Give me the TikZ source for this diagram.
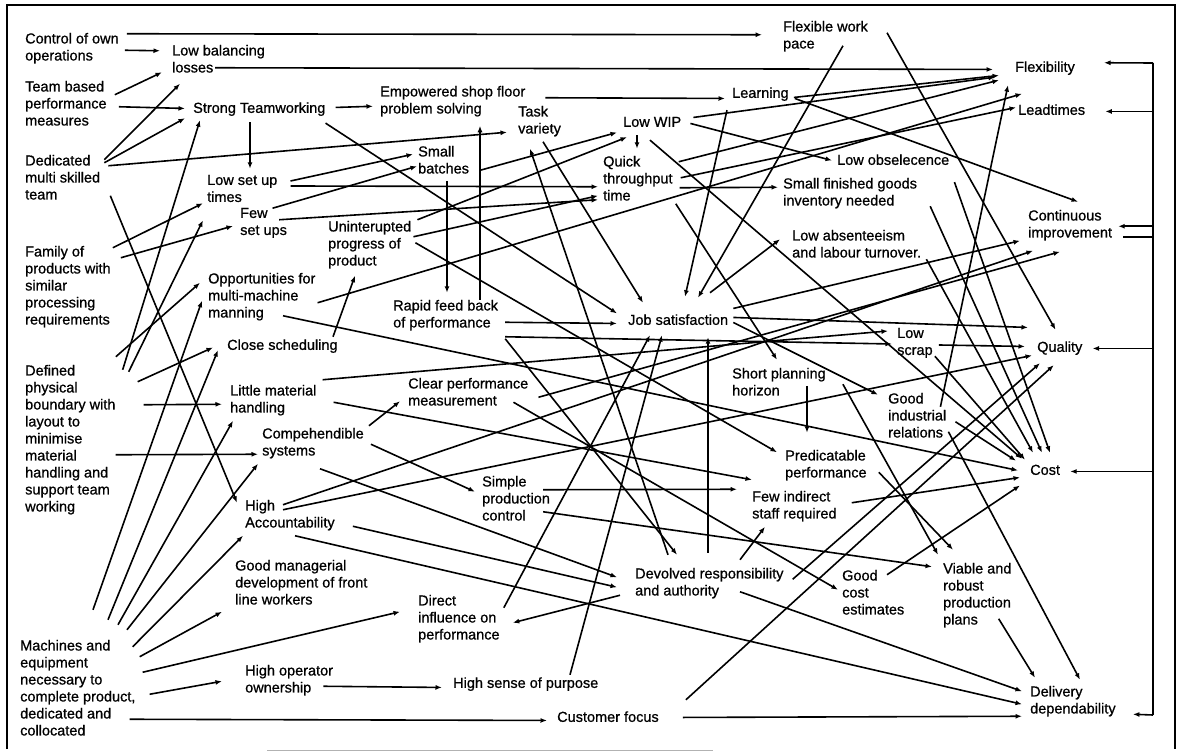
\documentclass[tikz,border=0pt]{standalone}
\usepackage{fontspec}
\setmainfont{Liberation Sans}[FakeBold=0.8]
\usetikzlibrary{arrows.meta}
\begin{document}
\begin{tikzpicture}[x=1pt,y=-1pt,
  lbl/.style={anchor=north west, inner sep=2pt, align=left,
    font=\fontsize{14.5}{17}\selectfont,
    execute at begin node=\strut, execute at end node=\strut},
  arr/.style={-{Latex[length=6.5pt,width=5pt]}, line width=1.6pt},
  ln/.style={line width=1.6pt}]
\useasboundingbox (0,0) rectangle (1179,752);
% frame: black on three sides, a faint rule along the bottom
\draw[line width=2pt] (7,749) -- (7,5) -- (1175,5) -- (1175,749);
\draw[gray!60, line width=1pt] (267,750) -- (713,750);

% ---------- factors ----------
\node[lbl] (ctrl) at (23,30.75) {Control of own\\operations};
\node[lbl] (lbl) at (170,42.75) {Low balancing\\losses};
\node[lbl] (team) at (23,78.75) {Team based\\performance\\measures};
\node[lbl] (strong) at (191,98.75) {Strong Teamworking};
\node[lbl] (ded) at (23,152.75) {Dedicated\\multi skilled\\team};
\node[lbl] (emp) at (378,83.75) {Empowered shop floor\\problem solving};
\node[lbl] (task) at (516,103.75) {Task\\variety};
\node[lbl] (learn) at (730,83.75) {Learning};
\node[lbl] (flexwork) at (781,18.75) {Flexible work\\pace};
\node[lbl] (lowwip) at (621,112.75) {Low WIP};
\node[lbl] (small) at (416,143.75) {Small\\batches};
\node[lbl] (lowset) at (205,172.75) {Low set up\\times};
\node[lbl] (few) at (238,205.75) {Few\\set ups};
\node[lbl] (quick) at (601,153.75) {Quick\\throughput\\time};
\node[lbl] (obs) at (835,150.75) {Low obselecence};
\node[lbl] (sfg) at (781,175.75) {Small finished goods\\inventory needed};
\node[lbl] (absent) at (790,227.75) {Low absenteeism\\and labour turnover.};
\node[lbl] (unint) at (326,218.75) {Uninterupted\\progress of\\product};
\node[lbl] (family) at (23,243.75) {Family of\\products with\\similar\\processing\\requirements};
\node[lbl] (opp) at (206,270.75) {Opportunities for\\multi-machine\\manning};
\node[lbl] (close) at (225,335.75) {Close scheduling};
\node[lbl] (defined) at (23,362.75) {Defined\\physical\\boundary with\\layout to\\minimise\\material\\handling and\\support team\\working};
\node[lbl] (little) at (228,382.75) {Little material\\handling};
\node[lbl] (comp) at (260,425.75) {Compehendible\\systems};
\node[lbl] (rapid) at (391,297.75) {Rapid feed back\\of performance};
\node[lbl] (clear) at (406,375.75) {Clear performance\\measurement};
\node[lbl] (simple) at (480,473.75) {Simple\\production\\control};
\node[lbl] (high) at (243,497.75) {High\\Accountability};
\node[lbl] (good) at (233,557.75) {Good managerial\\development of front\\line workers};
\node[lbl] (direct) at (416,592.75) {Direct\\influence on\\performance};
\node[lbl] (machines) at (18,637.75) {Machines and\\equipment\\necessary to\\complete product,\\dedicated and\\collocated};
\node[lbl] (operator) at (243,662.75) {High operator\\ownership};
\node[lbl] (purpose) at (451,673.75) {High sense of purpose};
\node[lbl] (customer) at (555,707.75) {Customer focus};
\node[lbl] (devolved) at (633,565.75) {Devolved responsibility\\and authority};
\node[lbl] (job) at (626,310.75) {Job satisfaction};
\node[lbl] (short) at (730,365.75) {Short planning\\horizon};
\node[lbl] (pred) at (783,447.75) {Predicatable\\performance};
\node[lbl] (fewind) at (750,488.75) {Few indirect\\staff required};
\node[lbl] (lowscrap) at (895,325.75) {Low\\scrap};
\node[lbl] (gir) at (886,390.75) {Good\\industrial\\relations};
\node[lbl] (goodcost) at (840,567.75) {Good\\cost\\estimates};
\node[lbl] (viable) at (941,560.75) {Viable and\\robust\\production\\plans};
% ---------- performance outcomes ----------
\node[lbl] (flex) at (1013,57.75) {Flexibility};
\node[lbl] (lead) at (1016,100.75) {Leadtimes};
\node[lbl] (cont) at (1026,207.75) {Continuous\\improvement};
\node[lbl] (quality) at (1035,337.75) {Quality};
\node[lbl] (cost) at (1028,460.75) {Cost};
\node[lbl] (delivery) at (1028,683.75) {Delivery\\dependability};

% ---------- links, top band ----------
\draw[arr] ([shift={(6,3)}]ctrl.north east) -- ([shift={(-19,16)}]flexwork.north west);
\draw[arr] ([shift={(4,1)}]ctrl.east) -- ([shift={(-10,8)}]lbl.north west);
\draw[arr] ([shift={(45,-12)}]lbl.south west) -- ([shift={(-20,1)}]flex.west);
\draw[arr] ([shift={(6,16)}]team.north east) -- ([shift={(-8,11)}]lbl.west);
\draw[arr] ([shift={(10,1)}]team.east) -- ([shift={(-6,-1)}]strong.west);
\draw[arr] ([shift={(2,7)}]ded.north east) -- ([shift={(10,4)}]lbl.south west);
\draw[arr] ([shift={(2,10)}]ded.north east) -- ([shift={(-6,-2)}]strong.south west);
\draw[arr] ([shift={(6,13)}]ded.north east) -- ([shift={(-9,10)}]task.west);
\draw[arr] ([shift={(8,-11)}]ded.south east) -- ([shift={(-6,5)}]high.north west);
\draw[arr] ([shift={(5,7)}]defined.north east) -- ([shift={(9,0)}]strong.south west);
\draw[arr] ([shift={(59,2)}]strong.south west) -- ([shift={(45,-4)}]lowset.north west);
\draw[arr] ([shift={(8,-2)}]strong.east) -- ([shift={(-5,4)}]emp.west);
\draw[arr] ([shift={(-2,3)}]strong.south east) -- ([shift={(-9,-8)}]job.west);
\draw[arr] ([shift={(18,14)}]emp.north east) -- ([shift={(-5,4)}]learn.west);
\draw[arr] ([shift={(0,4)}]family.north east) -- ([shift={(-2,-6)}]lowset.south west);
\draw[arr] ([shift={(8,14)}]family.north east) -- ([shift={(-5,2)}]few.west);
\draw[arr] ([shift={(11,9)}]defined.north east) -- ([shift={(-2,11)}]lowset.south west);
\draw[arr] ([shift={(11,-10)}]lowset.east) -- ([shift={(-3,-8)}]small.west);
\draw[arr] ([shift={(11,-5)}]lowset.east) -- ([shift={(-3,6)}]quick.west);
\draw[arr] ([shift={(-7,-1)}]lowset.south east) -- ([shift={(1,4)}]small.west);
\draw[arr] ([shift={(-10,14)}]few.north east) -- ([shift={(-3,19)}]quick.west);
\draw[arr] ([shift={(0,18)}]unint.north east) -- ([shift={(-3,15)}]quick.west);
\draw[arr] ([shift={(9,8)}]small.east) -- ([shift={(-4,9)}]lowwip.west);
\draw[arr] ([shift={(4,1)}]unint.north east) -- ([shift={(6,3)}]lowwip.south west);
\draw[arr] ([shift={(31,0)}]small.south west) -- ([shift={(56,-5)}]rapid.north west);
\draw[arr] ([shift={(89,2)}]rapid.north west) -- ([shift={(102,5)}]emp.south west);
\draw[arr] ([shift={(16,1)}]lowwip.south west) -- ([shift={(36,-5)}]quick.north west);
\draw[arr] ([shift={(10,-6)}]lowwip.east) -- ([shift={(-18,-2)}]flex.south west);
\draw[arr] ([shift={(3,3)}]learn.east) -- ([shift={(-14,7)}]flex.west);
\draw[arr] ([shift={(4,8)}]quick.north east) -- ([shift={(-14,1)}]flex.south west);
\draw[arr] ([shift={(6,-3)}]quick.east) -- ([shift={(0,-4)}]lead.west);
\draw[arr] ([shift={(0,5)}]opp.east) -- ([shift={(6,-7)}]lead.north west);
\draw[arr] ([shift={(7,0)}]lowwip.east) -- ([shift={(-3,-1)}]obs.west);
\draw[arr] ([shift={(5,7)}]quick.east) -- ([shift={(-3,-7)}]sfg.west);
\draw[arr] ([shift={(4,4)}]learn.east) -- ([shift={(52,-6)}]cont.north west);
\draw[arr] ([shift={(17,14)}]flexwork.north east) -- ([shift={(-29,-8)}]quality.north east);
\draw[arr] ([shift={(62,-10)}]flexwork.south west) -- ([shift={(72,-13)}]job.north west);
\draw[arr] ([shift={(-3,5)}]learn.south west) -- ([shift={(59,-14)}]job.north west);
\draw[arr] ([shift={(84,-18)}]job.north west) -- ([shift={(-10,-7)}]absent.west);
\draw[arr] ([shift={(27,1)}]task.south west) -- ([shift={(17,-8)}]job.north west);
\draw[arr] ([shift={(35,-11)}]devolved.north west) -- ([shift={(14,8)}]task.south west);
\draw[arr] ([shift={(1,-4)}]quick.south east) -- ([shift={(47,-6)}]short.north west);
\draw[arr] ([shift={(29,6)}]lowwip.south west) -- ([shift={(-6,-2)}]cost.north west);

% ---------- links, middle band ----------
\draw[arr] ([shift={(3,-13)}]job.east) -- ([shift={(-6,-4)}]cont.south west);
\draw[arr] ([shift={(3,-4)}]job.east) -- ([shift={(-7,-21)}]quality.west);
\draw[arr] ([shift={(3,1)}]job.east) -- ([shift={(-8,4)}]gir.north west);
\draw[arr] ([shift={(5,6)}]rapid.east) -- ([shift={(-9,2)}]job.west);
\draw[arr] ([shift={(5,2)}]rapid.south east) -- ([shift={(-3,0)}]lowscrap.west);
\draw[arr] ([shift={(5,4)}]rapid.south east) -- ([shift={(44,-11)}]devolved.north west);
\draw[arr] ([shift={(108,1)}]close.north west) -- ([shift={(29,3)}]unint.south west);
\draw[arr] ([shift={(4,-3)}]little.north east) -- ([shift={(-7,-13)}]lowscrap.west);
\draw[arr] ([shift={(15,1)}]little.east) -- ([shift={(2,-9)}]fewind.north west);
\draw[arr] ([shift={(26,-36)}]defined.east) -- ([shift={(-6,3)}]little.west);
\draw[arr] ([shift={(20,19)}]defined.north east) -- ([shift={(-12,1)}]close.west);
\draw[arr] ([shift={(-2,14)}]defined.east) -- ([shift={(-2,10)}]comp.west);
\draw[arr] ([shift={(3,25)}]family.south east) -- ([shift={(-6,-15)}]opp.west);
\draw[arr] ([shift={(77,-9)}]opp.south west) -- ([shift={(-10,-1)}]cost.west);
\draw[arr] ([shift={(2,-3)}]unint.east) -- ([shift={(-6,-14)}]pred.west);
\draw[arr] ([shift={(-17,8)}]clear.east) -- ([shift={(-2,-5)}]goodcost.west);
\draw[arr] ([shift={(8,3)}]clear.east) -- ([shift={(34,7)}]cont.south west);
\draw[arr] ([shift={(3,0)}]comp.north east) -- ([shift={(-6,7)}]clear.west);
\draw[arr] ([shift={(5,0)}]comp.east) -- ([shift={(-5,-9)}]simple.west);
\draw[arr] ([shift={(60,6)}]comp.south west) -- ([shift={(-16,-7)}]devolved.west);
\draw[arr] ([shift={(77,-17)}]short.south west) -- ([shift={(24,-15)}]pred.north west);
\draw[arr] ([shift={(15,0)}]short.east) -- ([shift={(-3,-6)}]viable.north west);
\draw[arr] ([shift={(10,6)}]pred.east) -- ([shift={(12,-11)}]viable.north west);
\draw[arr] ([shift={(-8,16)}]gir.north east) -- ([shift={(-5,6)}]flex.south west);
\draw[arr] ([shift={(7,4)}]gir.east) -- ([shift={(-12,0)}]cost.north west);
\draw[arr] ([shift={(0,14)}]gir.east) -- ([shift={(52,-4)}]delivery.north west);
\draw[arr] ([shift={(3,13)}]absent.east) -- ([shift={(5,-8)}]cost.north west);
\draw[arr] ([shift={(3,10)}]obs.south east) -- ([shift={(22,-8)}]cost.north west);
\draw[arr] ([shift={(11,12)}]sfg.east) -- ([shift={(14,-8)}]cost.north west);
\draw[arr] ([shift={(4,1)}]lowscrap.east) -- ([shift={(-10,-2)}]quality.west);
\draw[arr] ([shift={(0,-6)}]lowscrap.south east) -- ([shift={(-3,-1)}]cost.north west);

% ---------- links, lower band ----------
\draw[arr] ([shift={(75,-28)}]machines.north west) -- ([shift={(-4,-24)}]opp.south west);
\draw[arr] ([shift={(90,-18)}]machines.north west) -- ([shift={(-7,-7)}]close.south west);
\draw[arr] ([shift={(100,-13)}]machines.north west) -- ([shift={(5,1)}]little.south west);
\draw[arr] ([shift={(109,-8)}]machines.north west) -- ([shift={(-2,1)}]comp.south west);
\draw[arr] ([shift={(-5,9)}]machines.north east) -- ([shift={(0,1)}]high.south west);
\draw[arr] ([shift={(2,19)}]machines.north east) -- ([shift={(-11,0)}]good.south west);
\draw[arr] ([shift={(5,-18)}]machines.east) -- ([shift={(-16,-8)}]direct.west);
\draw[arr] ([shift={(12,4)}]machines.east) -- ([shift={(-21,0)}]operator.west);
\draw[arr] ([shift={(-8,29)}]machines.east) -- ([shift={(-8,2)}]customer.west);
\draw[arr] ([shift={(-12,5)}]operator.east) -- ([shift={(-9,3)}]purpose.west);
\draw[arr] ([shift={(22,-1)}]customer.east) -- ([shift={(-6,14)}]delivery.west);
\draw[arr] ([shift={(25,-8)}]customer.north east) -- ([shift={(-6,6)}]quality.south);
\draw[arr] ([shift={(7,-5)}]devolved.east) -- ([shift={(5,4)}]quality.south west);
\draw[arr] ([shift={(47,7)}]goodcost.north west) -- ([shift={(-8,14)}]cost.west);
\draw[arr] ([shift={(40,7)}]high.north west) -- ([shift={(7,6)}]cont.south west);
\draw[arr] ([shift={(40,12)}]high.north west) -- ([shift={(-3,7)}]quality.west);
\draw[arr] ([shift={(16,10)}]high.east) -- ([shift={(-16,3)}]devolved.west);
\draw[arr] ([shift={(52,1)}]high.south west) -- ([shift={(-6,2)}]delivery.west);
\draw[arr] ([shift={(107,-11)}]devolved.south west) -- ([shift={(-6,-11)}]delivery.west);
\draw[arr] ([shift={(-13,11)}]devolved.west) -- ([shift={(11,3)}]direct.east);
\draw[arr] ([shift={(2,15)}]direct.north east) -- ([shift={(24,3)}]job.south west);
\draw[arr] ([shift={(119,1)}]purpose.north west) -- ([shift={(36,3)}]job.south west);
\draw[arr] ([shift={(75,-13)}]devolved.north west) -- ([shift={(82,5)}]job.south west);
\draw[arr] ([shift={(107,-6)}]devolved.north west) -- ([shift={(15,1)}]fewind.south west);
\draw[arr] ([shift={(63,16)}]simple.north west) -- ([shift={(-13,-18)}]fewind.west);
\draw[arr] ([shift={(13,14)}]fewind.north east) -- ([shift={(-8,6)}]cost.west);
\draw[arr] ([shift={(-9,11)}]simple.east) -- ([shift={(-9,6)}]viable.north west);
\draw[arr] ([shift={(-15,-13)}]viable.south east) -- ([shift={(7,-6)}]delivery.north west);

% ---------- feedback bus on the right ----------
\coordinate (bt) at (1153,63);
\coordinate (bb) at (1153,715);
\draw[ln] (bt) -- (bb);
\draw[ln] ([shift={(9,-8)}]cont.south east) -- ([shift={(39,-8)}]cont.south east);
\draw[arr] (bt) -- ([shift={(27,5)}]flex.north east);
\draw[arr] (lead.east -| bt) -- ([shift={(18,0)}]lead.east);
\draw[arr] (cont.east -| bt) -- ([shift={(4,0)}]cont.east);
\draw[arr] (quality.east -| bt) -- ([shift={(8,0)}]quality.east);
\draw[arr] (cost.east -| bt) -- ([shift={(8,0)}]cost.east);
\draw[arr] (bb) -- ([shift={(15,12)}]delivery.east);
\end{tikzpicture}
\end{document}
